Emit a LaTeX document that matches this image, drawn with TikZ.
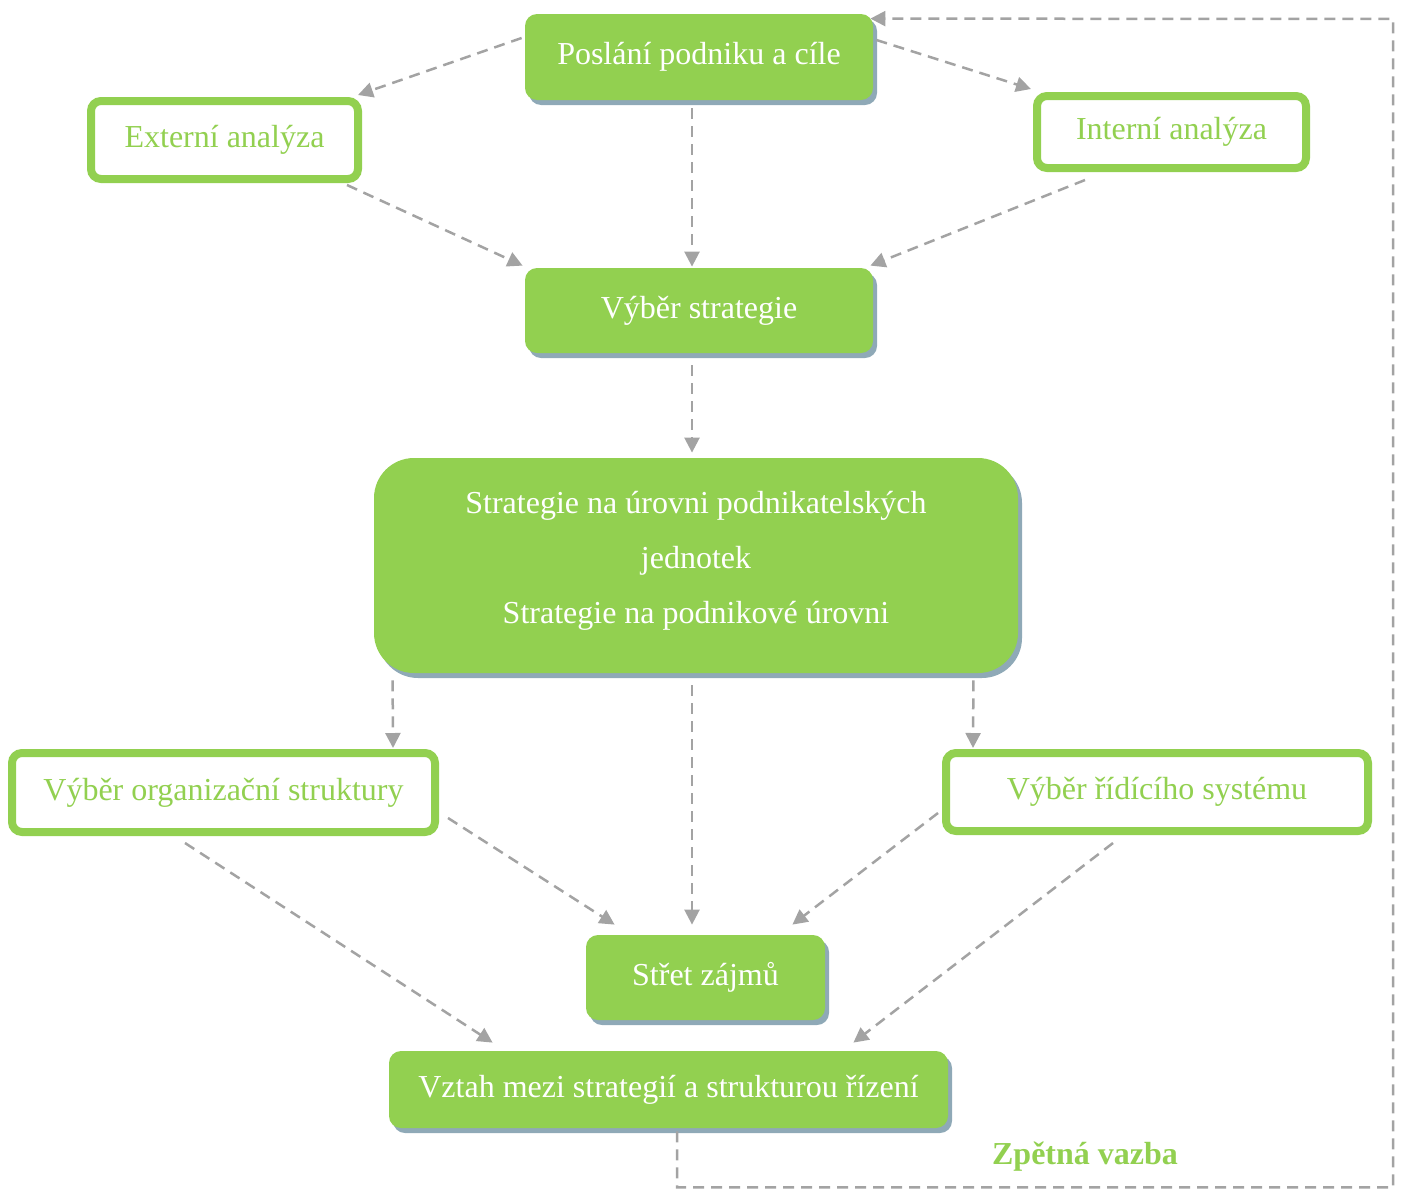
\documentclass[tikz,border=0pt]{standalone}
\usepackage{fontspec}
\setmainfont{Liberation Serif}
\usetikzlibrary{arrows.meta,shadows}
\definecolor{kgreen}{HTML}{92D050}
\definecolor{kshadow}{HTML}{8FA9B7}
\definecolor{kgray}{HTML}{A3A3A3}
\tikzset{
  filledbox/.style={draw=none, fill=kgreen, rounded corners=6pt, text=white,
    font=\fontsize{16}{27.5}\selectfont, align=center, inner sep=0pt,
    drop shadow={shadow xshift=2pt, shadow yshift=-2.5pt, fill=kshadow, opacity=1}},
  outlinebox/.style={draw=kgreen, line width=4pt, fill=white, rounded corners=5pt,
    text=kgreen, font=\fontsize{16}{20}\selectfont, inner sep=0pt},
  conn/.style={draw=kgray, line width=1.25pt, dash pattern=on 5.5pt off 3.5pt,
    -{Triangle[length=7.5pt,width=7.5pt]}},
  fbline/.style={draw=kgray, line width=1.25pt, dash pattern=on 5.5pt off 3.5pt,
    -{Triangle[length=7.5pt,width=7.5pt]}},
}
\begin{document}
\begin{tikzpicture}[x=0.5pt,y=-0.5pt]
\useasboundingbox (0,0) rectangle (1402,1189);
% nodes
\node[filledbox, minimum width=174pt, minimum height=43pt] (top) at (699,57) {Poslání podniku a cíle};
\node[outlinebox, minimum width=133.5pt, minimum height=39pt] (ext) at (224.5,140) {Externí analýza};
\node[outlinebox, minimum width=134.5pt, minimum height=36pt] (int) at (1171.5,132) {Interní analýza};
\node[filledbox, minimum width=174pt, minimum height=42.5pt] (strat) at (699,310.5) {Výběr strategie};
\node[filledbox, rounded corners=20pt, minimum width=322pt, minimum height=107.5pt, text depth=8.5pt] (big) at (696,565.5)
  {Strategie na úrovni podnikatelských\\jednotek\\Strategie na podnikové úrovni};
\node[outlinebox, minimum width=211.5pt, minimum height=39.5pt] (org) at (223.5,792.5) {Výběr organizační struktury};
\node[outlinebox, minimum width=211pt, minimum height=39pt] (rid) at (1157,792) {Výběr řídícího systému};
\node[filledbox, minimum width=119.5pt, minimum height=42.5pt] (stret) at (705.5,977.5) {Střet zájmů};
\node[filledbox, minimum width=279.5pt, minimum height=38.5pt] (vztah) at (668.5,1089.5) {Vztah mezi strategií a strukturou řízení};
\node[text=kgreen, font=\fontsize{16}{20}\selectfont\bfseries] (fb) at (1085,1157) {Zpětná vazba};
% connectors
\draw[conn] ([shift={(-3,-19)}]top.west) -- ([shift={(-4,-2)}]ext.north east);
\draw[conn] ([shift={(3,-17)}]top.east) -- ([shift={(-2,-3)}]int.north west);
\draw[conn] ([shift={(-7,8)}]top.south) -- ([shift={(-7,-1)}]strat.north);
\draw[conn] ([shift={(-15,2)}]ext.south east) -- ([shift={(-2,-2)}]strat.north west);
\draw[conn] ([shift={(52,8)}]int.south west) -- ([shift={(-3,-2)}]strat.north east);
\draw[conn] ([shift={(-7,12)}]strat.south) -- ([shift={(-4,-5)}]big.north);
\draw[conn] ([shift={(19,7)}]big.south west) -- ([shift={(-46,-1)}]org.north east);
\draw[conn] ([shift={(-4,12)}]big.south) -- ([shift={(-13.5,-10)}]stret.north);
\draw[conn] ([shift={(-45,7)}]big.south east) -- ([shift={(31,-1)}]rid.north west);
\draw[conn] ([shift={(9,25.5)}]org.east) -- ([shift={(29,-10)}]stret.north west);
\draw[conn] ([shift={(-38.5,7)}]org.south) -- ([shift={(104,-8)}]vztah.north west);
\draw[conn] ([shift={(-4,21)}]rid.west) -- ([shift={(-33,-10)}]stret.north east);
\draw[conn] ([shift={(-44,8)}]rid.south) -- ([shift={(-95,-8)}]vztah.north east);
% feedback
\coordinate (fbend) at ([shift={(-3,5)}]top.north east);
\draw[fbline] ([shift={(8.5,3)}]vztah.south) -- ++(0,56) -| (1393,19) -- (fbend);
\end{tikzpicture}
\end{document}
